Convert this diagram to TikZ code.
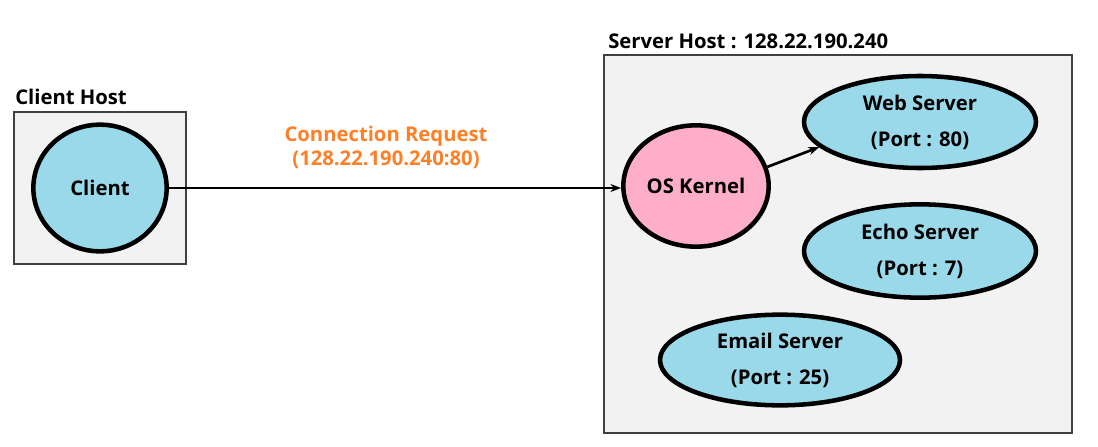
\documentclass[tikz,border=0pt]{standalone}
\usepackage{fontspec}
\setmainfont{Open Sans}
\usetikzlibrary{arrows.meta,shapes.geometric}
\definecolor{cblue}{RGB}{153,217,234}
\definecolor{cpink}{RGB}{255,174,201}
\definecolor{corange}{RGB}{255,127,39}
\definecolor{hostfill}{RGB}{242,242,242}
\begin{document}
\begin{tikzpicture}[x=0.75pt,y=-0.75pt,
  host/.style={draw=black!75,line width=1.5pt,fill=hostfill,inner sep=0pt},
  proc/.style={ellipse,draw=black,line width=3.4pt,inner sep=0pt,align=center,font=\bfseries\fontsize{15.2}{27}\selectfont},
  lbl/.style={anchor=base west,inner sep=0pt,font=\bfseries\fontsize{15.2}{16}\selectfont},
  conn/.style={line width=2pt,-{Stealth[length=8pt,width=6pt]}}]
\useasboundingbox (0,0) rectangle (1098,446);
\node[host,minimum width=129pt,minimum height=114pt] (ch) at (100,188) {};
\node[lbl] (chl) at (15,104) {Client Host};
\node[host,minimum width=351pt,minimum height=283.5pt] (sh) at (838,244) {};
\node[lbl] (shl) at (608,48) {Server Host : 128.22.190.240};
\node[proc,fill=cblue,minimum width=100pt,minimum height=95pt] (client) at (100,188) {Client};
\node[proc,fill=cpink,minimum width=109pt,minimum height=91pt] (kernel) at (696,186) {OS Kernel};
\node[proc,fill=cblue,minimum width=174pt,minimum height=69pt] (web) at (920,122) {Web Server\\(Port : 80)};
\node[proc,fill=cblue,minimum width=174pt,minimum height=70pt] (echo) at (920,251) {Echo Server\\(Port : 7)};
\node[proc,fill=cblue,minimum width=180pt,minimum height=68pt] (email) at (780,360) {Email Server\\(Port : 25)};
\draw[conn] (client.east) -- (kernel.west |- client.east);
\draw[conn] (kernel.15) -- (web.194);
\node[align=center,text=corange,font=\bfseries\fontsize{15.2}{18}\selectfont] (req) at (386,147) {Connection Request\\(128.22.190.240:80)};
\end{tikzpicture}
\end{document}
